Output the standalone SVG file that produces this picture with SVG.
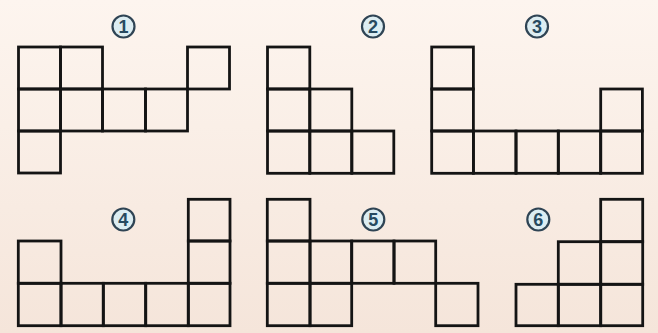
<svg xmlns="http://www.w3.org/2000/svg" width="658" height="333" viewBox="0 0 658 333">
<defs>
<linearGradient id="bg" x1="0" y1="0" x2="0" y2="1">
<stop offset="0" stop-color="#fdf5ef"/>
<stop offset="1" stop-color="#f5e5da"/>
</linearGradient>
<style>
.c{fill:none;stroke:#141414;stroke-width:2.8;stroke-linejoin:miter}
.lc{fill:#dcedf2;stroke:#2f4454;stroke-width:2.2}
.lt{font-family:"Liberation Sans",Arial,sans-serif;font-size:18px;font-weight:bold;fill:#274a60;text-anchor:middle}
</style>
</defs>
<rect width="658" height="333" fill="url(#bg)"/>

<g id="shape1">
<rect class="c" x="18.5" y="47" width="42" height="42"/>
<rect class="c" x="60.5" y="47" width="42" height="42"/>
<rect class="c" x="187.5" y="47" width="42" height="42"/>
<rect class="c" x="18.5" y="89" width="42" height="42"/>
<rect class="c" x="60.5" y="89" width="42" height="42"/>
<rect class="c" x="102.5" y="89" width="43" height="42"/>
<rect class="c" x="145.5" y="89" width="42" height="42"/>
<rect class="c" x="18.5" y="131" width="42" height="42"/>
<circle class="lc" cx="123.5" cy="26.5" r="11"/>
<text class="lt" x="123.5" y="33">1</text>
</g>

<g id="shape2">
<rect class="c" x="267.5" y="47" width="42.3" height="42"/>
<rect class="c" x="267.5" y="89" width="42.3" height="42"/>
<rect class="c" x="309.8" y="89" width="42" height="42"/>
<rect class="c" x="267.5" y="131" width="42.3" height="42.3"/>
<rect class="c" x="309.8" y="131" width="42" height="42.3"/>
<rect class="c" x="351.8" y="131" width="42" height="42.3"/>
<circle class="lc" cx="373" cy="26.5" r="11"/>
<text class="lt" x="373" y="33">2</text>
</g>

<g id="shape3">
<rect class="c" x="431.7" y="47" width="41.7" height="42"/>
<rect class="c" x="431.7" y="89" width="41.7" height="42"/>
<rect class="c" x="600.7" y="89" width="41.7" height="42"/>
<rect class="c" x="431.7" y="131" width="41.7" height="42.3"/>
<rect class="c" x="473.4" y="131" width="42.6" height="42.3"/>
<rect class="c" x="516" y="131" width="42.3" height="42.3"/>
<rect class="c" x="558.3" y="131" width="42.4" height="42.3"/>
<rect class="c" x="600.7" y="131" width="41.7" height="42.3"/>
<circle class="lc" cx="537" cy="26.5" r="11"/>
<text class="lt" x="537" y="33">3</text>
</g>

<g id="shape4">
<rect class="c" x="188.3" y="199.3" width="41.7" height="41.7"/>
<rect class="c" x="18.3" y="241" width="42.7" height="42.3"/>
<rect class="c" x="188.3" y="241" width="41.7" height="42.3"/>
<rect class="c" x="18.3" y="283.3" width="42.7" height="42.4"/>
<rect class="c" x="61" y="283.3" width="42.3" height="42.4"/>
<rect class="c" x="103.3" y="283.3" width="42.4" height="42.4"/>
<rect class="c" x="145.7" y="283.3" width="42.6" height="42.4"/>
<rect class="c" x="188.3" y="283.3" width="41.7" height="42.4"/>
<circle class="lc" cx="123.3" cy="219.5" r="11"/>
<text class="lt" x="123.3" y="226">4</text>
</g>

<g id="shape5">
<rect class="c" x="267.3" y="199.3" width="42.7" height="41.7"/>
<rect class="c" x="267.3" y="241" width="42.7" height="42.3"/>
<rect class="c" x="310" y="241" width="41.7" height="42.3"/>
<rect class="c" x="351.7" y="241" width="42.3" height="42.3"/>
<rect class="c" x="394" y="241" width="41.7" height="42.3"/>
<rect class="c" x="267.3" y="283.3" width="42.7" height="42.4"/>
<rect class="c" x="310" y="283.3" width="41.7" height="42.4"/>
<rect class="c" x="435.7" y="283.3" width="42.3" height="42.4"/>
<circle class="lc" cx="373.3" cy="219.5" r="11"/>
<text class="lt" x="373.3" y="226">5</text>
</g>

<g id="shape6">
<rect class="c" x="600.7" y="199.3" width="42" height="42.4"/>
<rect class="c" x="558.3" y="241.7" width="42.4" height="42.6"/>
<rect class="c" x="600.7" y="241.7" width="42" height="42.6"/>
<rect class="c" x="516" y="284.3" width="42.3" height="41.4"/>
<rect class="c" x="558.3" y="284.3" width="42.4" height="41.4"/>
<rect class="c" x="600.7" y="284.3" width="42" height="41.4"/>
<circle class="lc" cx="538.3" cy="219.5" r="11"/>
<text class="lt" x="538.3" y="226">6</text>
</g>

<g id="connectors"/>
</svg>
